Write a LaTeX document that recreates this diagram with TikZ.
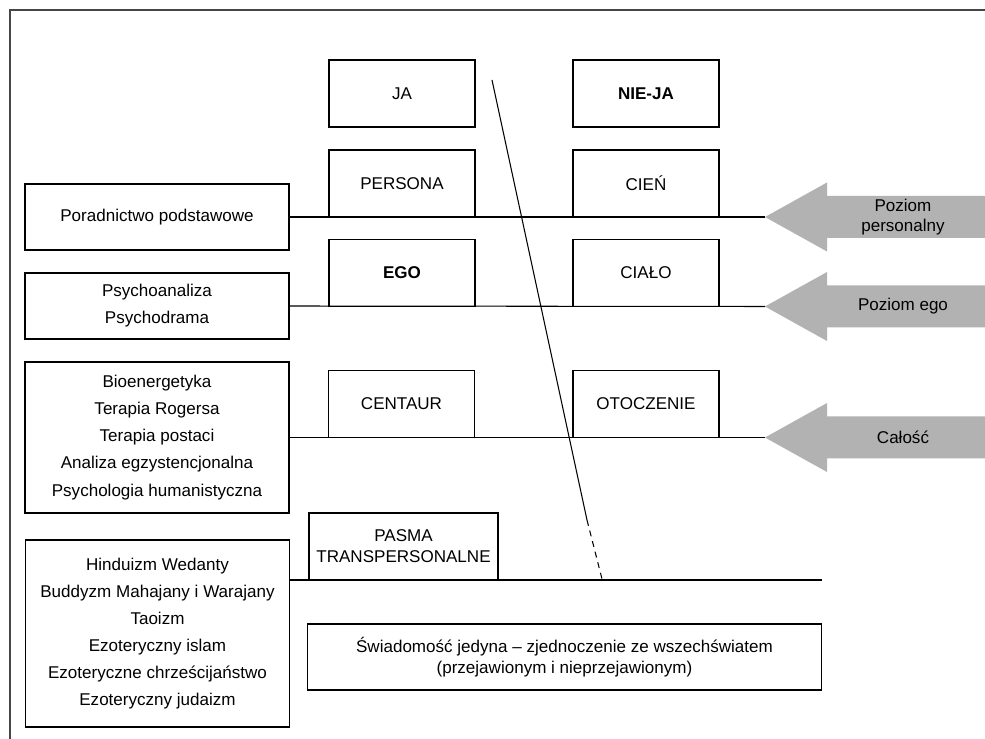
\documentclass[tikz,border=0pt]{standalone}
\usepackage{fontspec}
\setmainfont{Liberation Sans}
\usepackage{tikz}
\usetikzlibrary{calc}
\definecolor{levelgray}{RGB}{178,178,178}
\definecolor{framegray}{RGB}{70,70,70}
\tikzset{
  box/.style={draw,line width=0.6pt,inner sep=0pt,outer sep=0pt,minimum width=2.92cm,minimum height=1.34cm,
    font=\fontsize{9.7}{12}\selectfont,align=center},
  listbox/.style={box,minimum width=5.28cm,font=\fontsize{9.7}{15.4}\selectfont},
  level/.style={line width=0.6pt},
  frame/.style={line width=1.2pt,framegray}
}

\begin{document}
\begin{tikzpicture}[x=0.02cm,y=-0.02cm]
\useasboundingbox (0,0) rectangle (985,739);
\draw[frame](985,10)--(10,10)--(10,739);
% arrows on the right
\foreach \y/\lbl/\nm in {217/{Poziom\\personalny}/lvlA,306.5/{Poziom ego}/lvlB,437.5/{Całość}/lvlC}{
  \fill[levelgray](765,\y)--++(62,-34.5)--++(0,13.5)--++(158,0)--++(0,42)--++(-158,0)--++(0,13.5)--cycle;
  \coordinate(\nm)at(765,\y);
  \node[align=center,font=\fontsize{9.7}{11.4}\selectfont](\nm txt)at(903,\y){\lbl};
}
% left column
\node[listbox,minimum height=1.32cm](pora)at(157,217){Poradnictwo podstawowe};
\node[listbox,minimum height=1.32cm](psycho)at(157,306){Psychoanaliza\\Psychodrama};
\node[listbox,minimum height=3.02cm](bio)at(157,437.5){Bioenergetyka\\Terapia Rogersa\\Terapia postaci\\Analiza egzystencjonalna\\Psychologia humanistyczna};
\node[listbox,minimum height=3.74cm](hind)at(157.5,633.5){Hinduizm Wedanty\\Buddyzm Mahajany i Warajany\\Taoizm\\Ezoteryczny islam\\Ezoteryczne chrześcijaństwo\\Ezoteryczny judaizm};
% levels
\draw[level](pora.east)--(lvlA);
\draw[level](psycho.east)--(lvlB);
\draw[level](bio.east)--(lvlC);
% boxes
\node[box](ja)at(402,93.5){JA};
\node[box](nieja)at(646,93.5){\bfseries NIE-JA};
\node[box](persona)at(402,183.5){PERSONA};
\node[box](cien)at(646,183.5){CIEŃ};
\node[box,line width=0.9pt](ego)at(402,273){\bfseries EGO};
\node[box](cialo)at(646,273){CIAŁO};
\node[box](centaur)at(401.5,404){CENTAUR};
\node[box](otocz)at(646,404){OTOCZENIE};
\node[box,minimum width=3.78cm](pasma)at(403.5,546.5){PASMA\\TRANSPERSONALNE};
\node[box,minimum width=10.3cm,minimum height=1.32cm](swiad)at(564.5,657){Świadomość jedyna -- zjednoczenie ze wszechświatem\\(przejawionym i nieprzejawionym)};
\draw[level](hind.east|-pasma.south)--(swiad.east|-pasma.south);
% dividing line
\coordinate(divtop)at(492,80);
\coordinate(divmid)at(587,520);
\coordinate(divend)at(602,579);
\draw[level](divtop)--(divmid);
\draw[level,dash pattern=on 3.4pt off 2.8pt](divmid)--(divend);
\end{tikzpicture}
\end{document}
